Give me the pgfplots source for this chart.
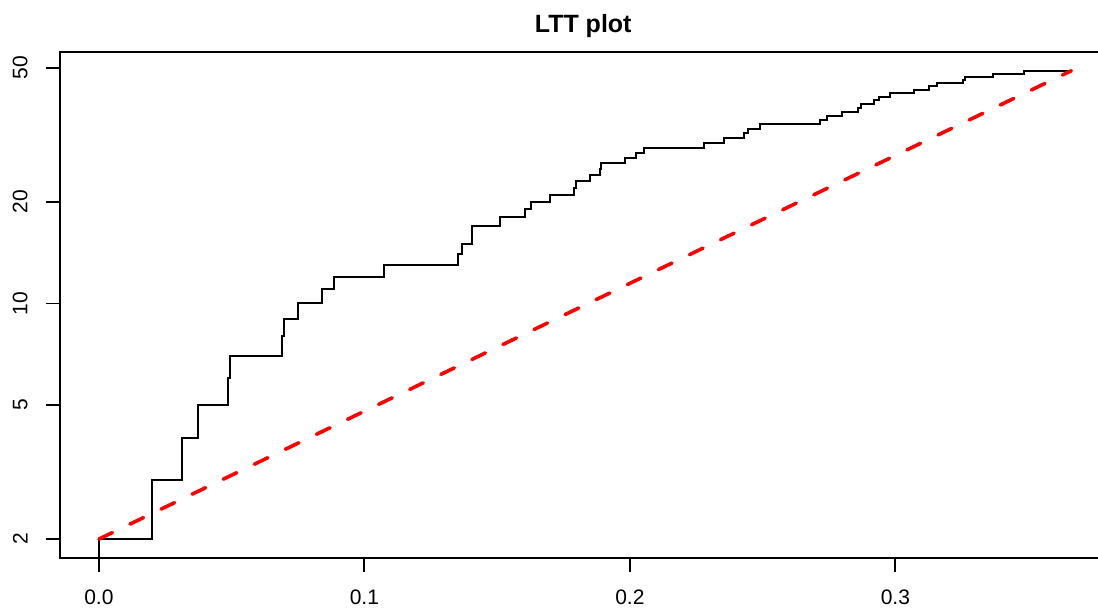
\documentclass[border=0pt]{standalone}
\usepackage{fontspec}
\setmainfont{Liberation Sans}
\usepackage{pgfplots}
\pgfplotsset{compat=1.18}

% lineages through time: (time, number of lineages)
\pgfplotstableread{
t    n
0      1
0      2
0.0199 3
0.0312 4
0.0372 5
0.0487 6
0.0495 7
0.0690 8
0.0696 9
0.0750 10
0.0839 11
0.0887 12
0.1073 13
0.1352 14
0.1367 15
0.1404 16
0.1405 17
0.1512 18
0.1606 19
0.1628 20
0.1699 21
0.1789 22
0.1798 23
0.1851 24
0.1888 25
0.1890 26
0.1983 27
0.2024 28
0.2053 29
0.2279 30
0.2355 31
0.2430 32
0.2445 33
0.2490 34
0.2716 35
0.2742 36
0.2799 37
0.2859 38
0.2870 39
0.2920 40
0.2938 41
0.2979 42
0.3071 43
0.3126 44
0.3155 45
0.3255 46
0.3264 47
0.3366 48
0.3485 49
0.3663 49
}\ltt

\begin{document}
\begin{tikzpicture}
\begin{axis}[
  name=ax,
  scale only axis,
  width=525.2pt, height=252.9pt,
  ymode=log,
  xmin=-0.01465, xmax=0.381,
  ymin=1.760, ymax=55.68,
  xtick={0,0.1,0.2,0.3},
  xticklabels={0.0,0.1,0.2,0.3},
  ytick={2,5,10,20,50},
  yticklabels={2,5,10,20,50},
  yminorticks=false,
  xtick pos=bottom, ytick pos=left,
  tick align=outside,
  major tick length=7pt,
  axis line style={line width=0.9pt},
  every tick/.style={black, line width=0.9pt},
  tick label style={font=\fontsize{10.5}{12}\selectfont},
  xticklabel style={anchor=north, inner sep=0pt, yshift=-9pt},
  % shifts act in the rotated frame: yshift moves the label left
  yticklabel style={rotate=90, anchor=south, inner sep=0pt, yshift=9pt},
  title={LTT plot},
  title style={font=\fontsize{12.5}{15}\selectfont\bfseries,
               at={(0.5,1)}, anchor=base, yshift=3.6pt, xshift=-1pt},
]
\addplot[const plot, black, line width=1pt] table[x=t, y=n] {\ltt};
\addplot[red, line width=1.8pt, line cap=round,
         dash pattern=on 7.5pt off 9.75pt]
  coordinates {(0,2) (0.3663,49)};
\end{axis}
\pgfresetboundingbox
\useasboundingbox ([xshift=-30pt,yshift=-27.1pt]ax.south west)
  rectangle +(549pt,306pt);
\end{tikzpicture}
\end{document}
